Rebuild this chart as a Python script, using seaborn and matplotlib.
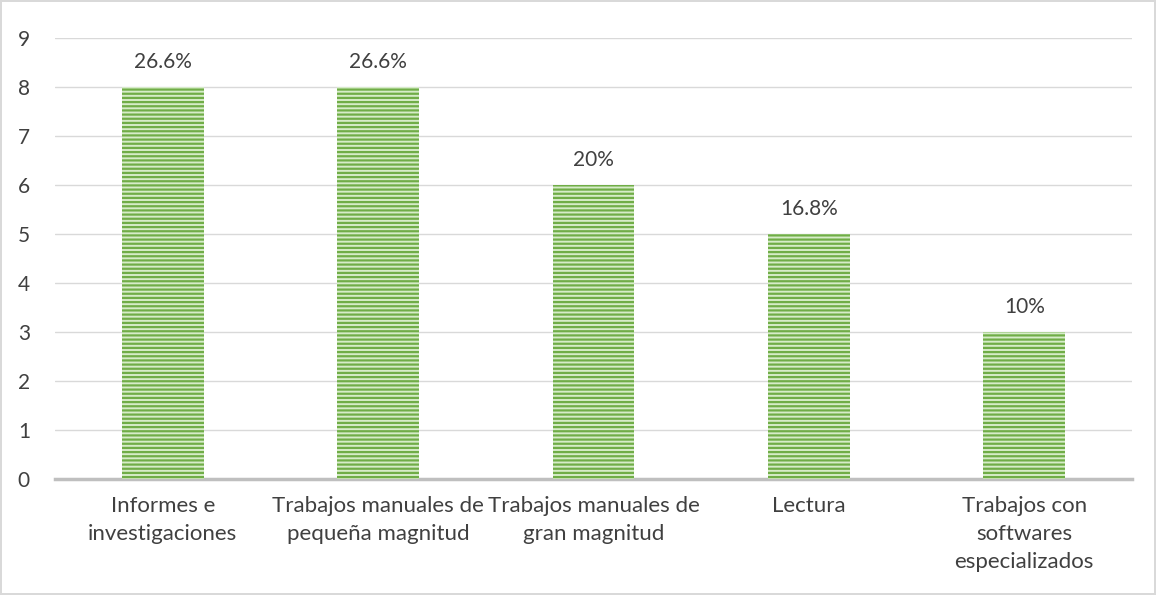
import numpy as np
import matplotlib
matplotlib.use('Agg')
import matplotlib.pyplot as plt
import seaborn as sns
import pandas as pd

# Data
categorias = ['Informes e\ninvestigaciones',
              'Trabajos manuales de\npequeña magnitud',
              'Trabajos manuales de\ngran magnitud',
              'Lectura',
              'Trabajos con\nsoftwares\nespecializados']
valores = [8, 8, 6, 5, 3]
etiquetas = ['26.6%', '26.6%', '20%', '16.8%', '10%']

sns.set_style('white')
plt.rcParams['font.family'] = ['Lato', 'DejaVu Sans']
plt.rcParams['hatch.color'] = '#70ad47'
plt.rcParams['hatch.linewidth'] = 1.6

df = pd.DataFrame({'cat': categorias, 'val': valores})

fig = plt.figure(figsize=(11.56, 5.95), dpi=100)
fig.patch.set_edgecolor('#d9d9d9')
fig.patch.set_linewidth(1.5)
ax = fig.add_axes([55 / 1156, 1 - 479 / 595, (1132 - 55) / 1156, (479 - 38) / 595])

sns.barplot(data=df, x='cat', y='val', color='#d6ecc8', width=0.38,
            saturation=1, ax=ax, zorder=3)
for p in ax.patches:
    p.set_hatch('----')
    p.set_edgecolor('#70ad47')
    p.set_linewidth(0)

for i, (v, lab) in enumerate(zip(valores, etiquetas)):
    ax.text(i, v + 0.3, lab, ha='center', va='bottom', fontsize=15, color='#404040')

ax.set_ylim(0, 9)
ax.set_xlim(-0.5, 4.5)
ax.set_yticks(range(0, 10))
ax.yaxis.grid(True, color='#d9d9d9', linewidth=1)
ax.set_axisbelow(True)
ax.set_xlabel('')
ax.set_ylabel('')
for s in ['top', 'right', 'left']:
    ax.spines[s].set_visible(False)
ax.spines['bottom'].set_color('#bfbfbf')
ax.spines['bottom'].set_linewidth(2.5)

ax.set_xticks(np.arange(-0.5, 5, 1), minor=False)
ax.set_xticklabels([])
ax.tick_params(axis='x', which='major', length=6, width=2, color='#bfbfbf')
ax.set_xticks(range(5), minor=True)
ax.set_xticklabels(categorias, minor=True, fontsize=16, color='#404040', va='top',
                   linespacing=1.5)
ax.tick_params(axis='x', which='minor', length=0, pad=12)
ax.tick_params(axis='y', length=0, labelsize=15, labelcolor='#404040', pad=18)

fig.savefig('out.png', dpi=100, edgecolor=fig.get_edgecolor())
